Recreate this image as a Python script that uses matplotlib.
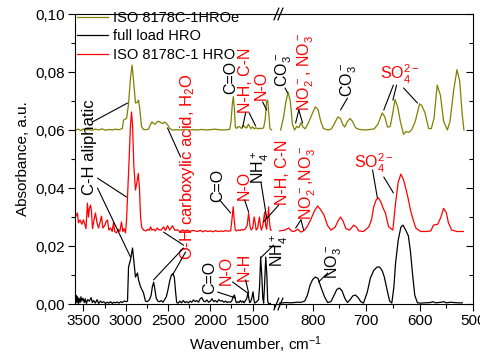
import matplotlib
matplotlib.use("Agg")
import matplotlib.pyplot as plt
import matplotlib.ticker as mticker

plt.rcParams["font.family"] = ["Liberation Sans", "DejaVu Sans"]
plt.rcParams["mathtext.default"] = "regular"

OLIVE = "#808000"

# spectra: (wavenumber cm-1, absorbance a.u.)
HROE_LEFT = [
    (3590, .0600), (3560, .0603), (3530, .0598), (3500, .0604), (3470, .0600),
    (3440, .0602), (3400, .0599), (3360, .0603), (3320, .0600), (3280, .0604),
    (3240, .0599), (3200, .0602), (3160, .0600), (3120, .0603), (3080, .0601),
    (3040, .0605), (3027, .0634), (2990, .0640), (2967, .0690), (2944, .0780),
    (2925, .0824), (2908, .0770), (2885, .0693), (2865, .0695), (2849, .0703),
    (2837, .0680), (2814, .0612), (2790, .0602), (2760, .0601), (2730, .0603),
    (2710, .0618), (2690, .0628), (2670, .0622), (2650, .0620), (2630, .0628),
    (2610, .0630), (2590, .0626), (2560, .0622), (2540, .0628), (2510, .0620),
    (2480, .0605), (2450, .0600), (2400, .0601), (2350, .0600), (2300, .0602),
    (2250, .0600), (2200, .0601), (2150, .0600), (2100, .0602), (2050, .0600),
    (2000, .0601), (1950, .0603), (1900, .0601), (1850, .0600), (1800, .0601),
    (1770, .0603), (1755, .0630), (1740, .0690), (1728, .0715), (1715, .0670),
    (1705, .0612), (1690, .0605), (1670, .0612), (1650, .0610), (1630, .0605),
    (1610, .0615), (1590, .0610), (1570, .0607), (1550, .0620), (1535, .0612),
    (1520, .0605), (1500, .0611), (1480, .0604), (1460, .0608), (1440, .0604),
    (1420, .0606), (1400, .0605), (1370, .0607), (1350, .0640), (1335, .0700),
    (1322, .0703), (1310, .0660), (1295, .0605), (1275, .0600),
]
HROE_RIGHT = [
    (860, .0600), (855, .0640), (850, .0700), (846, .0730), (842, .0700),
    (838, .0620), (834, .0600), (830, .0612), (826, .0608), (822, .0625),
    (818, .0610), (814, .0604), (808, .0625), (800, .0660), (795, .0680),
    (790, .0670), (785, .0630), (780, .0605), (775, .0602), (770, .0600),
    (765, .0604), (760, .0620), (753, .0645), (748, .0640), (744, .0620),
    (740, .0610), (735, .0630), (730, .0640), (725, .0628), (720, .0608),
    (715, .0603), (705, .0600), (695, .0601), (685, .0604), (678, .0620),
    (670, .0659), (665, .0645), (660, .0610), (655, .0612), (650, .0660),
    (646, .0705), (641, .0680), (636, .0630), (630, .0585), (625, .0595),
    (620, .0592), (615, .0600), (608, .0630), (600, .0690), (596, .0685),
    (590, .0660), (583, .0605), (578, .0605), (573, .0640), (567, .0755),
    (561, .0720), (555, .0630), (548, .0600), (543, .0630), (536, .0740),
    (530, .0808), (525, .0770), (520, .0650), (517, .0600),
]

FULL_LEFT = [
    (3595, .0010), (3588, .0030), (3580, .0005), (3570, .0025), (3560, .0000),
    (3552, .0020), (3540, .0005), (3530, .0025), (3520, .0010), (3505, .0020),
    (3490, .0005), (3480, .0018), (3465, .0002), (3450, .0015), (3430, .0010),
    (3410, .0022), (3395, .0005), (3380, .0012), (3360, .0003), (3340, .0015),
    (3320, .0002), (3300, .0010), (3280, .0005), (3260, .0008), (3240, .0002),
    (3220, .0006), (3200, .0003), (3180, .0008), (3160, .0002), (3140, .0006),
    (3120, .0004), (3100, .0007), (3080, .0003), (3060, .0008), (3040, .0005),
    (3020, .0010), (2990, .0008), (2979, .0010), (2967, .0128), (2944, .0152),
    (2920, .0193), (2905, .0150), (2885, .0093), (2861, .0107), (2849, .0083),
    (2826, .0060), (2790, .0038), (2767, .0010), (2745, .0008), (2720, .0015),
    (2700, .0030), (2685, .0060), (2670, .0075), (2655, .0050), (2640, .0020),
    (2620, .0010), (2600, .0008), (2580, .0012), (2560, .0006), (2540, .0015),
    (2520, .0025), (2500, .0050), (2480, .0080), (2460, .0100), (2440, .0105),
    (2425, .0090), (2410, .0040), (2398, .0005), (2380, .0003), (2360, .0010),
    (2340, .0004), (2320, .0012), (2300, .0005), (2280, .0008), (2260, .0004),
    (2240, .0010), (2220, .0006), (2200, .0014), (2180, .0008), (2160, .0012),
    (2140, .0006), (2120, .0018), (2100, .0022), (2080, .0010), (2060, .0008),
    (2040, .0014), (2020, .0006), (2000, .0010), (1980, .0018), (1960, .0008),
    (1940, .0012), (1920, .0006), (1900, .0015), (1880, .0010), (1860, .0012),
    (1840, .0006), (1820, .0010), (1800, .0005), (1780, .0008), (1760, .0006),
    (1745, .0012), (1730, .0025), (1715, .0031), (1700, .0010), (1690, .0004),
    (1675, .0008), (1660, .0005), (1645, .0012), (1630, .0006), (1615, .0010),
    (1600, .0004), (1585, .0012), (1570, .0018), (1555, .0040), (1545, .0020),
    (1535, .0005), (1524, .0008), (1510, .0020), (1495, .0042), (1485, .0015),
    (1475, .0003), (1460, .0006), (1445, .0010), (1430, .0015), (1418, .0060),
    (1405, .0162), (1392, .0100), (1380, .0020), (1370, .0003), (1360, .0060),
    (1345, .0162), (1332, .0100), (1322, .0010), (1310, .0000), (1290, .0002),
]
FULL_RIGHT = [
    (862, .0003), (850, .0005), (840, .0004), (830, .0006), (822, .0006),
    (815, .0010), (810, .0030), (805, .0065), (800, .0085), (795, .0093),
    (790, .0088), (785, .0060), (778, .0025), (772, .0005), (766, .0008),
    (760, .0030), (755, .0050), (750, .0055), (745, .0045), (740, .0020),
    (735, .0005), (730, .0015), (725, .0028), (720, .0031), (715, .0022),
    (710, .0008), (705, .0003), (698, .0040), (692, .0090), (686, .0115),
    (680, .0127), (675, .0128), (670, .0115), (666, .0093), (661, .0050),
    (656, .0010), (652, .0003), (648, .0060), (645, .0140), (640, .0220),
    (635, .0265), (631, .0272), (626, .0255), (621, .0235), (617, .0180),
    (613, .0100), (609, .0030), (604, .0004), (598, .0003), (590, .0004),
    (580, .0005), (575, .0008), (570, .0004), (560, .0006), (555, .0008),
    (550, .0004), (542, .0006), (535, .0005), (528, .0004), (520, .0004),
]

HRO_LEFT = [
    (3595, .0300), (3571, .0314), (3559, .0280), (3540, .0290), (3520, .0275),
    (3500, .0290), (3470, .0260), (3453, .0348), (3441, .0300), (3429, .0330),
    (3417, .0341), (3405, .0320), (3393, .0260), (3375, .0290), (3358, .0314),
    (3340, .0280), (3322, .0262), (3305, .0280), (3287, .0303), (3270, .0262),
    (3250, .0270), (3230, .0285), (3216, .0290), (3200, .0255), (3180, .0262),
    (3160, .0250), (3145, .0280), (3130, .0250), (3110, .0245), (3090, .0258),
    (3070, .0250), (3050, .0283), (3035, .0250), (3020, .0260), (3003, .0245),
    (2990, .0293), (2979, .0370), (2960, .0500), (2945, .0610), (2932, .0662),
    (2920, .0620), (2905, .0480), (2885, .0393), (2868, .0420), (2852, .0450),
    (2838, .0400), (2825, .0300), (2812, .0265), (2790, .0255), (2760, .0252),
    (2740, .0258), (2720, .0254), (2707, .0266), (2690, .0255), (2670, .0258),
    (2650, .0252), (2630, .0262), (2610, .0256), (2580, .0255), (2553, .0266),
    (2530, .0254), (2506, .0270), (2480, .0255), (2447, .0270), (2420, .0254),
    (2390, .0256), (2360, .0250), (2330, .0255), (2300, .0252), (2270, .0255),
    (2240, .0250), (2210, .0254), (2180, .0252), (2150, .0250), (2120, .0254),
    (2090, .0249), (2060, .0253), (2030, .0250), (2000, .0252), (1970, .0249),
    (1940, .0253), (1910, .0250), (1880, .0252), (1850, .0250), (1820, .0253),
    (1790, .0251), (1760, .0252), (1745, .0290), (1730, .0335), (1718, .0290),
    (1705, .0255), (1690, .0252), (1670, .0256), (1650, .0253), (1630, .0257),
    (1610, .0255), (1590, .0258), (1565, .0270), (1547, .0314), (1530, .0265),
    (1515, .0255), (1500, .0262), (1482, .0300), (1470, .0280), (1458, .0255),
    (1440, .0262), (1420, .0300), (1408, .0270), (1395, .0255), (1380, .0270),
    (1358, .0317), (1345, .0270), (1335, .0258), (1320, .0300), (1311, .0335),
    (1300, .0280), (1290, .0255), (1280, .0255),
]
HRO_RIGHT = [
    (862, .0252), (852, .0255), (845, .0262), (840, .0252), (835, .0250),
    (828, .0258), (822, .0248), (815, .0255), (810, .0268), (804, .0290),
    (797, .0320), (791, .0338), (785, .0325), (779, .0307), (772, .0270),
    (766, .0255), (758, .0265), (753, .0285), (748, .0300), (743, .0285),
    (738, .0260), (731, .0255), (723, .0272), (718, .0265), (714, .0252),
    (705, .0250), (695, .0266), (690, .0290), (686, .0334), (681, .0360),
    (677, .0366), (672, .0350), (669, .0334), (664, .0314), (658, .0266),
    (650, .0255), (645, .0348), (640, .0420), (635, .0448), (630, .0428),
    (626, .0400), (622, .0369), (617, .0324), (612, .0290), (607, .0262),
    (598, .0250), (588, .0250), (579, .0252), (574, .0272), (566, .0275),
    (560, .0300), (555, .0330), (550, .0315), (546, .0280), (540, .0255),
    (530, .0250), (518, .0250),
]

LEGEND = ["ISO 8178C-1HROe", "full load HRO", "ISO 8178C-1 HRO"]
LEFT_TICKS = [3500, 3000, 2500, 2000, 1500]
RIGHT_TICKS = [800, 700, 600, 500]

fig = plt.figure(figsize=(4.8, 3.6), dpi=100)
W, H = 480, 360
x0, xb, x1, yb, yt = 75, 278, 473, 304, 14
axL = fig.add_axes([x0 / W, 1 - yb / H, (xb - x0) / W, (yb - yt) / H])
axR = fig.add_axes([xb / W, 1 - yb / H, (x1 - xb) / W, (yb - yt) / H], sharey=axL)
axR.patch.set_visible(False)

series = [
    (LEGEND[0], HROE_LEFT, HROE_RIGHT, OLIVE),
    (LEGEND[1], FULL_LEFT, FULL_RIGHT, "black"),
    (LEGEND[2], HRO_LEFT, HRO_RIGHT, "red"),
]
handles = []
for label, left, right, color in series:
    h, = axL.plot([p[0] for p in left], [p[1] for p in left], color=color, lw=0.9, label=label)
    axR.plot([p[0] for p in right], [p[1] for p in right], color=color, lw=0.9)
    handles.append(h)

axL.set_xlim(3600, 1200)
axR.set_xlim(865, 500)
axL.set_ylim(0, 0.10)

axL.spines["right"].set_visible(False)
axR.spines["left"].set_visible(False)
axL.set_xticks(LEFT_TICKS)
axL.xaxis.set_minor_locator(mticker.MultipleLocator(250))
axR.set_xticks(RIGHT_TICKS)
axR.xaxis.set_minor_locator(mticker.MultipleLocator(50))
axL.yaxis.set_major_locator(mticker.MultipleLocator(0.02))
axL.yaxis.set_minor_locator(mticker.MultipleLocator(0.01))
axL.yaxis.set_major_formatter(mticker.FuncFormatter(lambda v, _: f"{v:.2f}".replace(".", ",")))
for ax in (axL, axR):
    ax.tick_params(which="major", length=5, width=0.8, labelsize=11, pad=2)
    ax.tick_params(which="minor", length=3, width=0.8)
axR.tick_params(axis="y", which="both", left=False, right=True, labelleft=False, direction="in")

axL.set_ylabel("Absorbance, a.u.", fontsize=11, labelpad=4)
fig.text(256 / W, 1 - 345 / H, "Wavenumber, cm$^{-1}$", fontsize=11, ha="center", va="center")

leg = axL.legend(handles=handles, loc="upper left", bbox_to_anchor=(0.012, 1.01), frameon=False,
                 fontsize=10.5, handlelength=2.1, handletextpad=0.35, labelspacing=0.3,
                 borderpad=0, borderaxespad=0)

# break marks
for ax_y in (0, 1):
    for dx in (-0.008, 0.012):
        axL.plot([1 + dx - 0.012, 1 + dx + 0.012], [ax_y - 0.02, ax_y + 0.02], transform=axL.transAxes,
                 color="black", lw=0.9, clip_on=False)


def note(ax, text, pos, color, links=(), rot=90, fs=11.5):
    ax.text(pos[0], pos[1], text, color=color, rotation=rot, ha="center", va="center",
            fontsize=fs, clip_on=False)
    for a, b in links:
        ax.annotate("", xy=b, xytext=a, annotation_clip=False,
                    arrowprops=dict(arrowstyle="-", lw=0.8, color="black", shrinkA=0, shrinkB=0))


# left segment labels
note(axL, "C-H aliphatic", (3429, .0541), "black",
     [((3393, .0628), (2979, .0693)), ((3334, .0434), (2991, .0369)), ((3334, .0400), (2944, .0162))],
     fs=12)
note(axL, "O-H carboxylic acid, H$_2$O", (2269, .0472), "red",
     [((2352, .0507), (2506, .0607)), ((2317, .0203), (2553, .0248)),
      ((2317, .0193), (2672, .0083)), ((2293, .0179), (2447, .0100))], fs=12)
note(axL, "C=O", (1755, .0782), "black")
note(axL, "N-H, C-N", (1580, .0772), "red",
     [((1583, .0659), (1618, .0610)), ((1540, .0659), (1465, .0614))])
note(axL, "N-O", (1395, .0755), "red", [((1382, .0697), (1334, .0669))])
note(axL, "C=O", (1914, .0410), "black", [((1891, .0359), (1760, .0314))])
note(axL, "N-O", (1600, .0410), "red", [((1595, .0359), (1547, .0317))])
note(axL, "NH$_4^+$", (1410, .0472), "black", [((1400, .0417), (1334, .0297))])
note(axL, "N-H, C-N", (1145, .0455), "red", [((1192, .0341), (1370, .0283))])
note(axL, "C=O", (2009, .0090), "black", [((1914, .0041), (1701, .0021))])
note(axL, "N-O", (1808, .0117), "red", [((1737, .0076), (1559, .0038))])
note(axL, "N-H", (1595, .0128), "red", [((1583, .0083), (1547, .0038))])
note(axL, "NH$_4^+$", (1180, .0186), "black", [((1252, .0203), (1405, .0159))])

# right segment labels
note(axR, "CO$_3^-$", (854, .0807), "black", [((852, .0745), (847, .0728))])
note(axR, "NO$_2^-$, NO$_3^-$", (813, .0800), "red",
     [((826, .0669), (832, .0624)), ((826, .0669), (819, .0624))])
note(axR, "CO$_3^-$", (733, .0772), "black", [((735, .0710), (748, .0669))])
note(axR, "SO$_4^{2-}$", (636, .0790), "red",
     [((649, .0755), (667, .0669)), ((643, .0755), (650, .0703)), ((630, .0745), (604, .0693))], rot=0)
note(axR, "NO$_2^-$,NO$_3^-$", (809, .0417), "red",
     [((822, .0290), (832, .0262)), ((822, .0290), (817, .0255))])
note(axR, "SO$_4^{2-}$", (686, .0486), "red",
     [((688, .0462), (679, .0366)), ((667, .0438), (649, .0383))], rot=0)
note(axR, "NO$_3^-$", (761, .0145), "black", [((772, .0107), (789, .0076))])

fig.savefig("out.png", dpi=100)
